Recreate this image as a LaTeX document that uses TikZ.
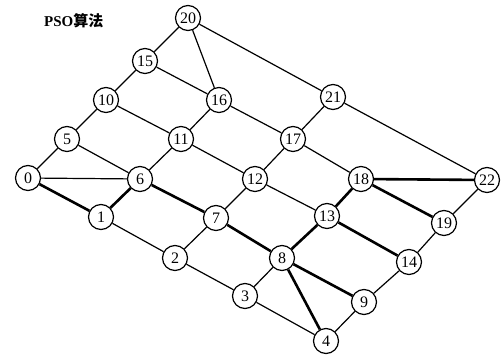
\documentclass[tikz,border=0pt]{standalone}
\usepackage{fontspec}
\setmainfont{Liberation Serif}
\newfontfamily\cjk{Noto Sans CJK SC}
\usepackage{tikz}
\usetikzlibrary{positioning}
\definecolor{ink}{HTML}{000000}
\tikzset{
  vertex/.style={draw=ink,circle,fill=white,line width=1.2pt,minimum size=25pt,inner sep=0pt,font=\fontsize{16}{16}\selectfont},
  link/.style={draw=ink,line width=1.2pt},
  boldlink/.style={draw=ink,line width=2.6pt},
  title/.style={font=\bfseries\fontsize{15}{15}\selectfont,anchor=west,inner sep=0pt}}
\begin{document}
\begin{tikzpicture}[x=1pt,y=-1pt]
  \useasboundingbox (0,0) rectangle (501,356);
  \node[title] (head) at (44,21) {PSO{\cjk 算法}};
  % the grid of nodes, column by column
  \foreach \n/\x/\y in {0/28/178,5/67/139,10/106/100,15/145/61,20/188/18,
      1/101/217,6/140/179,11/181/139,16/219/100,
      2/175/258,7/216/218,12/255/179,17/293/139,21/333/97,
      3/245/296,8/282/258,13/327/216,18/361/179,
      4/326/341,9/364/302,14/409/262,19/444/223,22/487/180}{
    \node[vertex] (v\n) at (\x,\y) {\n};}
  % plain edges
  \foreach \a/\b in {0/5,5/10,10/15,15/20,6/11,11/16,16/20,2/7,7/12,12/17,17/21,
      3/8,4/9,9/14,14/19,19/22,1/2,2/3,3/4,5/6,10/11,11/12,12/13,15/16,16/17,17/18,
      20/21,21/22,0/6}{
    \draw[link] (v\a) -- (v\b);}
  % the best path
  \foreach \a/\b in {0/1,1/6,6/7,7/8,8/9,8/4,8/13,13/18,13/14,18/19,18/22}{
    \draw[boldlink] (v\a) -- (v\b);}
\end{tikzpicture}
\end{document}
